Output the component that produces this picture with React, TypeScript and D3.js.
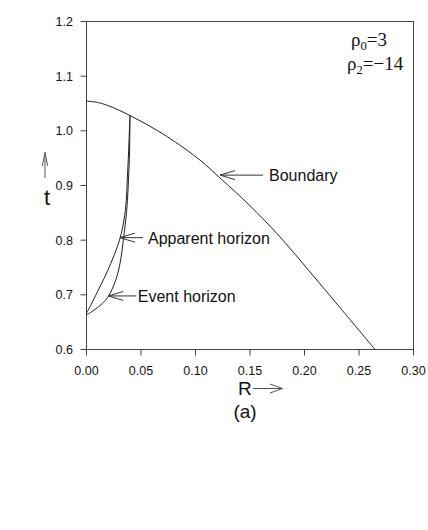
import React from "react";
import * as d3 from "d3";

// tick values
const xTicks = [0, 0.05, 0.1, 0.15, 0.2, 0.25, 0.3];
const yTicks = [0.6, 0.7, 0.8, 0.9, 1.0, 1.1, 1.2];

// boundary curve R(t)
const boundaryR = [0, 0.01, 0.02, 0.0399, 0.0736, 0.1041, 0.124, 0.15, 0.1775, 0.205, 0.2326, 0.2647];
const boundaryT = [1.0545, 1.052, 1.046, 1.028, 0.99, 0.9465, 0.911, 0.863, 0.806, 0.742, 0.6765, 0.6];

// apparent horizon
const apparentR = [0, 0.0039, 0.0099, 0.0161, 0.0222, 0.0283, 0.0319, 0.0344, 0.0365, 0.0374, 0.0383, 0.039, 0.0399];
const apparentT = [0.666, 0.681, 0.705, 0.73, 0.757, 0.788, 0.812, 0.837, 0.873, 0.91, 0.947, 0.983, 1.028];

// event horizon
const eventR = [0, 0.0069, 0.0145, 0.0206, 0.0268, 0.0307, 0.0338, 0.036, 0.0376, 0.0385, 0.0393, 0.0397, 0.0399];
const eventT = [0.663, 0.672, 0.684, 0.699, 0.727, 0.757, 0.8, 0.837, 0.873, 0.91, 0.947, 0.983, 1.028];

// label arrows: tip position in data coords
const labels = [
  { text: "Boundary", r: 0.1225, t: 0.919, tail: 43, gap: 6 },
  { text: "Apparent horizon", r: 0.0307, t: 0.8046, tail: 23, gap: 5 },
  { text: "Event horizon", r: 0.02, t: 0.698, tail: 28, gap: 1.5 },
];

const sans = "'Liberation Sans', Arial, Helvetica, sans-serif";
const serif = "'Liberation Serif', 'Times New Roman', serif";

function ArrowLeft({ x, y, len }: { x: number; y: number; len: number }) {
  // open head pointing left, tip at x,y
  return (
    <g stroke="#333" fill="none" strokeWidth={1}>
      <line x1={x} y1={y} x2={x + len} y2={y} />
      <polyline points={`${x + 15},${y - 4.5} ${x},${y} ${x + 15},${y + 4.5}`} />
    </g>
  );
}

export default function App() {
  const x = d3.scaleLinear().domain([0, 0.3]).range([86.5, 413.5]);
  const y = d3.scaleLinear().domain([0.6, 1.2]).range([349.5, 21.5]);

  const line = d3
    .line<[number, number]>()
    .x((d) => x(d[0]))
    .y((d) => y(d[1]))
    .curve(d3.curveCatmullRom);

  const zip = (a: number[], b: number[]) => a.map((v, i) => [v, b[i]] as [number, number]);

  const x0 = x(0);
  const x1 = x(0.3);
  const yb = y(0.6);
  const yt = y(1.2);

  return (
    <svg
      width={428}
      height={530}
      style={{ position: "absolute", left: 0, top: 0, background: "#fff" }}
      fontFamily={sans}
    >
      {/* frame */}
      <rect x={x0} y={yt} width={x1 - x0} height={yb - yt} fill="none" stroke="#444" strokeWidth={1} />

      {/* x ticks */}
      {xTicks.map((v) => (
        <g key={`x${v}`}>
          <line x1={x(v)} x2={x(v)} y1={yb} y2={yb + 6} stroke="#444" />
          <text x={x(v)} y={375} fontSize={12.5} textAnchor="middle" fill="#111">
            {d3.format(".2f")(v)}
          </text>
        </g>
      ))}

      {/* y ticks */}
      {yTicks.map((v) => (
        <g key={`y${v}`}>
          <line x1={x0 - 6} x2={x0} y1={y(v)} y2={y(v)} stroke="#444" />
          <text x={73} y={y(v) + 4.5} fontSize={12.5} textAnchor="end" fill="#111">
            {d3.format(".1f")(v)}
          </text>
        </g>
      ))}

      {/* curves */}
      <path d={line(zip(boundaryR, boundaryT)) ?? ""} fill="none" stroke="#222" strokeWidth={1} />
      <path d={line(zip(apparentR, apparentT)) ?? ""} fill="none" stroke="#222" strokeWidth={1} />
      <path d={line(zip(eventR, eventT)) ?? ""} fill="none" stroke="#222" strokeWidth={1} />

      {/* curve labels */}
      {labels.map((l) => {
        const px = x(l.r);
        const py = y(l.t);
        return (
          <g key={l.text}>
            <ArrowLeft x={px} y={py} len={l.tail} />
            <text x={px + l.tail + l.gap} y={py + 6} fontSize={16} fill="#111">
              {l.text}
            </text>
          </g>
        );
      })}

      {/* axis names */}
      <text x={238} y={395} fontSize={19} fill="#111">R</text>
      <g stroke="#555" fill="none">
        <line x1={253} y1={388.5} x2={282.5} y2={388.5} />
        <polyline points="270,384 282.5,388.5 270,393" />
      </g>
      <text x={47} y={205} fontSize={22} textAnchor="middle" fill="#111">t</text>
      <g stroke="#555" fill="none">
        <line x1={45} y1={152.5} x2={45} y2={178} />
        <polyline points="42.3,166 45,152.5 47.7,166" />
      </g>
      <text x={245} y={418} fontSize={19} textAnchor="middle" fill="#111">(a)</text>

      {/* parameters */}
      <text x={351} y={46} fontFamily={serif} fontSize={19} fill="#111">
        ρ<tspan fontSize={12.5} dy={4}>0</tspan>
        <tspan dy={-4}>=3</tspan>
      </text>
      <text x={347} y={70} fontFamily={serif} fontSize={19} fill="#111">
        ρ<tspan fontSize={12.5} dy={4}>2</tspan>
        <tspan dy={-4}>=−14</tspan>
      </text>
    </svg>
  );
}
